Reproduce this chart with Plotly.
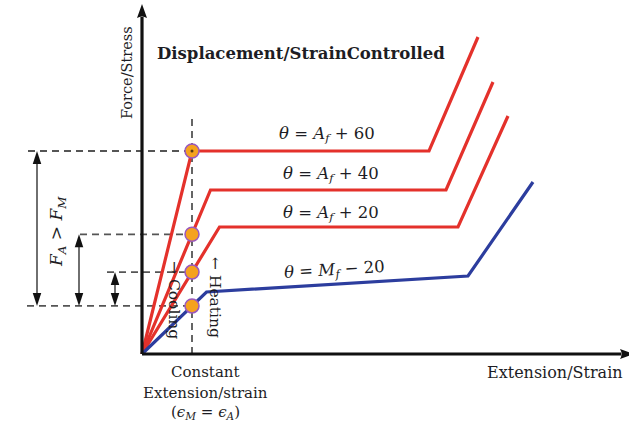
import numpy as np
import plotly.graph_objects as go

# ---- schematic data (strain units, stress units) ----
eps_A = 1.0  # constant extension, eps_M = eps_A

curve_names = ["θ = A_f + 60", "θ = A_f + 40", "θ = A_f + 20", "θ = M_f − 20"]
curve_strain = [
    [0.0, 1.00, 5.74, 6.72],
    [0.0, 1.37, 6.08, 7.02],
    [0.0, 1.55, 6.32, 7.32],
    [0.0, 1.29, 6.52, 7.82],
]
curve_stress = [
    [0.0, 4.06, 4.06, 6.34],
    [0.0, 3.28, 3.28, 5.44],
    [0.0, 2.54, 2.54, 4.76],
    [0.0, 1.24, 1.56, 3.44],
]
curve_labels = [
    "<i>θ</i> = <i>A<sub>f</sub></i> + 60",
    "<i>θ</i> = <i>A<sub>f</sub></i> + 40",
    "<i>θ</i> = <i>A<sub>f</sub></i> + 20",
    "<i>θ</i> = <i>M<sub>f</sub></i> − 20",
]
RED = "#E4312B"
BLUE = "#2C3D9E"
curve_colors = [RED, RED, RED, BLUE]

# label placement for each curve (strain, stress, angle)
label_pos = [(3.70, 4.40, 0), (3.78, 3.60, 0), (3.78, 2.82, 0), (3.84, 1.68, -3.5)]

# left ends of the dashed guide lines and x of the force-difference arrows
guide_left = [-2.28, -1.24, -0.70, -2.30]
arrow_x = [-2.10, -1.26, -0.54]

# ---- canvas ----
W, H = 629, 423
PX = 50.0                      # pixels per unit
x0_px, y0_px = 142, 354        # origin location on the page
xr = [-x0_px / PX, (W - x0_px) / PX]
yr = [(y0_px - H) / PX, y0_px / PX]

FONT = "DejaVu Serif"
TXT = "#1d1d24"

fig = go.Figure()
shapes = []
annos = []

# axes
ax_top = 6.74
shapes.append(dict(type="line", x0=0, y0=0, x1=0, y1=ax_top,
                   line=dict(color="#111", width=3.2), layer="above"))
shapes.append(dict(type="path", fillcolor="#111", line=dict(width=0),
                   path=f"M -0.10 {ax_top-0.02} L 0 {ax_top+0.26} L 0.10 {ax_top-0.02} Q 0 {ax_top+0.04} -0.10 {ax_top-0.02} Z"))
ax_right = 9.58
shapes.append(dict(type="line", x0=0, y0=0, x1=ax_right, y1=0,
                   line=dict(color="#111", width=3.2), layer="above"))
shapes.append(dict(type="path", fillcolor="#111", line=dict(width=0),
                   path=f"M {ax_right-0.02} -0.10 L {ax_right+0.26} 0 L {ax_right-0.02} 0.10 Q {ax_right+0.04} 0 {ax_right-0.02} -0.10 Z"))

# points where the curves meet the constant-extension line
hold_stress = [float(np.interp(eps_A, xs, ys)) for xs, ys in zip(curve_strain, curve_stress)]

DASH = dict(color="#555", width=1.8, dash="7px,5px")
# vertical dashed line at eps_A
shapes.append(dict(type="line", x0=eps_A, y0=0, x1=eps_A, y1=4.72, line=DASH, layer="below"))
# horizontal dashed guides
for s, xl in zip(hold_stress, guide_left):
    shapes.append(dict(type="line", x0=xl, y0=s, x1=eps_A, y1=s, line=DASH, layer="below"))

# double-headed force arrows (all down to the lowest level)
hl, hw = 0.26, 0.085
low = hold_stress[3]
for xa, top in zip(arrow_x, hold_stress[:3]):
    shapes.append(dict(type="line", x0=xa, y0=low + hl * 0.8, x1=xa, y1=top - hl * 0.8,
                       line=dict(color="#222", width=1.3)))
    shapes.append(dict(type="path", fillcolor="#111", line=dict(width=0),
                       path=f"M {xa-hw} {top-hl} L {xa} {top} L {xa+hw} {top-hl} Z"))
    shapes.append(dict(type="path", fillcolor="#111", line=dict(width=0),
                       path=f"M {xa-hw} {low+hl} L {xa} {low} L {xa+hw} {low+hl} Z"))

# curves
for xs, ys, c, nm in zip(curve_strain, curve_stress, curve_colors, curve_names):
    fig.add_trace(go.Scatter(x=xs, y=ys, mode="lines", name=nm,
                             line=dict(color=c, width=3.2), hoverinfo="skip"))

# markers at constant extension
fig.add_trace(go.Scatter(x=[eps_A] * 4, y=hold_stress, mode="markers",
                         marker=dict(size=14, color="#F5A21E",
                                     line=dict(color="#9A58BE", width=1.5)),
                         hoverinfo="skip"))
fig.add_trace(go.Scatter(x=[eps_A], y=[hold_stress[0]], mode="markers",
                         marker=dict(size=3, color="#5a3a10"), hoverinfo="skip"))

def txt(x, y, t, size=15, angle=0, bold=False):
    annos.append(dict(x=x, y=y, text=f"<b>{t}</b>" if bold else t, showarrow=False,
                      textangle=angle, xanchor="center", yanchor="middle",
                      font=dict(family=FONT, size=size, color=TXT)))

for lab, (lx, ly, ang) in zip(curve_labels, label_pos):
    txt(lx, ly, lab, size=16.5, angle=ang)

txt(3.18, 6.02, "Displacement/StrainControlled", size=16.5, bold=True)
txt(-0.30, 5.62, "Force/Stress", size=14.5, angle=-90)
txt(-1.70, 2.44, "<i>F<sub>A</sub></i> &gt; <i>F<sub>M</sub></i>", size=17, angle=-90)
txt(0.64, 1.08, "→ Cooling", size=15.5, angle=90)
txt(1.46, 1.14, "← Heating", size=15.5, angle=90)
txt(1.26, -0.36, "Constant", size=15)
txt(1.26, -0.78, "Extension/strain", size=15)
txt(1.26, -1.16, "(<i>ϵ<sub>M</sub></i> = <i>ϵ<sub>A</sub></i>)", size=15)
txt(8.26, -0.36, "Extension/Strain", size=16)

fig.update_layout(
    width=W, height=H, margin=dict(l=0, r=0, t=0, b=0),
    paper_bgcolor="white", plot_bgcolor="white", showlegend=False,
    xaxis=dict(range=xr, visible=False, fixedrange=True),
    yaxis=dict(range=yr, visible=False, fixedrange=True),
    shapes=shapes, annotations=annos,
)

fig.write_html("out.html", config={"displayModeBar": False})
